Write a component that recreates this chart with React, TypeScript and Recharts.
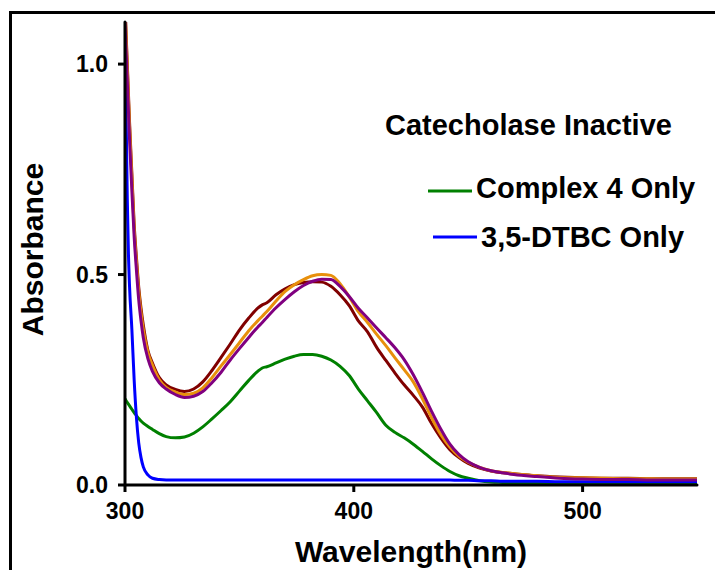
import React from 'react';
import { LineChart, Line, XAxis, YAxis, Legend, Label } from 'recharts';

// Wavelength grid (nm) shared by every trace
const wavelengths = [
  300, 300.5, 301, 301.5, 302, 303, 304, 305, 306, 307, 308, 310, 312, 315, 318,
  322, 326, 330, 334, 338, 342, 346, 350, 354, 358, 360, 362, 366, 370, 374, 378,
  382, 386, 390, 394, 398, 402, 406, 410, 414, 418, 422, 426, 430, 434, 438, 442,
  446, 450, 455, 460, 465, 470, 480, 490, 500, 510, 520, 530, 540, 550,
];

// Reaction mixture scans (absorbance)
const scanDarkRed = [
  1.15, 1.07, 1.0, 0.93, 0.86, 0.74, 0.62, 0.54, 0.47, 0.42, 0.38, 0.32, 0.29, 0.255, 0.238,
  0.227, 0.222, 0.228, 0.245, 0.272, 0.303, 0.335, 0.368, 0.396, 0.42, 0.428, 0.433, 0.452, 0.466, 0.476, 0.481,
  0.483, 0.482, 0.472, 0.452, 0.426, 0.39, 0.364, 0.327, 0.296, 0.266, 0.238, 0.213, 0.185, 0.146, 0.112, 0.084,
  0.065, 0.051, 0.04, 0.033, 0.029, 0.027, 0.022, 0.019, 0.017, 0.016, 0.016, 0.015, 0.015, 0.015,
];
const scanOrange = [
  1.13, 1.06, 0.99, 0.92, 0.85, 0.73, 0.61, 0.53, 0.46, 0.41, 0.37, 0.315, 0.285, 0.25, 0.232,
  0.221, 0.215, 0.218, 0.231, 0.255, 0.283, 0.31, 0.338, 0.366, 0.39, 0.401, 0.412, 0.437, 0.46, 0.476, 0.488,
  0.497, 0.5, 0.498, 0.478, 0.447, 0.412, 0.386, 0.358, 0.331, 0.302, 0.274, 0.245, 0.205, 0.16, 0.12, 0.09,
  0.068, 0.054, 0.042, 0.034, 0.03, 0.027, 0.022, 0.018, 0.017, 0.016, 0.015, 0.015, 0.014, 0.014,
];
const scanPurple = [
  1.1, 1.03, 0.96, 0.89, 0.82, 0.7, 0.59, 0.51, 0.44, 0.39, 0.35, 0.3, 0.27, 0.243, 0.228,
  0.215, 0.208, 0.211, 0.222, 0.243, 0.268, 0.297, 0.324, 0.35, 0.375, 0.386, 0.398, 0.421, 0.441, 0.459, 0.474,
  0.484, 0.489, 0.488, 0.472, 0.448, 0.42, 0.397, 0.373, 0.35, 0.326, 0.298, 0.262, 0.22, 0.175, 0.133, 0.097,
  0.072, 0.055, 0.042, 0.034, 0.029, 0.025, 0.02, 0.016, 0.014, 0.013, 0.013, 0.012, 0.012, 0.012,
];
// Controls
const complex4Only = [
  0.205, 0.2, 0.196, 0.192, 0.188, 0.18, 0.172, 0.165, 0.158, 0.152, 0.147, 0.139, 0.132, 0.122, 0.115,
  0.112, 0.114, 0.123, 0.138, 0.157, 0.177, 0.198, 0.223, 0.248, 0.27, 0.278, 0.281, 0.29, 0.299, 0.306, 0.31,
  0.31, 0.306, 0.297, 0.282, 0.26, 0.228, 0.2, 0.172, 0.142, 0.125, 0.112, 0.097, 0.08, 0.062, 0.046, 0.032,
  0.022, 0.016, 0.01, 0.007, 0.006, 0.005, 0.005, 0.004, 0.004, 0.004, 0.004, 0.004, 0.004, 0.004,
];
const dtbcOnly = [
  1.15, 0.87, 0.68, 0.55, 0.47, 0.37, 0.25, 0.16, 0.1, 0.065, 0.043, 0.024, 0.016, 0.013, 0.012,
  0.012, 0.012, 0.012, 0.012, 0.012, 0.012, 0.012, 0.012, 0.012, 0.012, 0.012, 0.012, 0.012, 0.012, 0.012, 0.012,
  0.012, 0.012, 0.012, 0.012, 0.012, 0.012, 0.012, 0.012, 0.012, 0.012, 0.012, 0.012, 0.012, 0.012, 0.012, 0.012,
  0.011, 0.011, 0.01, 0.01, 0.009, 0.009, 0.009, 0.008, 0.008, 0.008, 0.008, 0.008, 0.008, 0.008,
];

const xTicks = [300, 400, 500];
const yTicks = [0, 0.5, 1.0];
const legendTitle = 'Catecholase Inactive';
const legendNames = ['Complex 4 Only', '3,5-DTBC Only'];

const rows = wavelengths.map((wl, i) => ({
  wl,
  darkRed: scanDarkRed[i],
  orange: scanOrange[i],
  purple: scanPurple[i],
  complex: complex4Only[i],
  dtbc: dtbcOnly[i],
}));

const FONT = '"Liberation Sans", Arial, sans-serif';

const renderLegend = (props: any) => {
  const all = (props && props.payload ? props.payload : []) as any[];
  const items = legendNames
    .map((name) => all.find((it) => it.value === name))
    .filter(Boolean) as any[];
  const rowsY = [191, 237];
  const lineX = [[428, 472], [433, 477]];
  return (
    <svg width={715} height={570} style={{ position: 'absolute', left: 0, top: 0 }}>
      <text x={385} y={135} fontFamily={FONT} fontWeight="bold" fontSize={29} fill="#000">
        {legendTitle}
      </text>
      {items.map((it, i) => (
        <g key={String(it.value)}>
          <line x1={lineX[i][0]} x2={lineX[i][1]} y1={rowsY[i]} y2={rowsY[i]} stroke={it.color} strokeWidth={3} />
          <text x={lineX[i][1] + 4} y={rowsY[i] + 7 + i * 3} fontFamily={FONT} fontWeight="bold" fontSize={29} fill="#000">
            {it.value}
          </text>
        </g>
      ))}
    </svg>
  );
};

const axisStyle = { stroke: '#000', strokeWidth: 3, strokeLinecap: 'round' as const };
const tickText = { fill: '#000', fontFamily: FONT, fontWeight: 'bold', fontSize: 23 };

const YTitle = (p: any) => {
  const vb = (p && p.viewBox) || { y: 22, height: 463 };
  const cy = vb.y + vb.height / 2 - 4;
  return (
    <text
      x={32}
      y={cy}
      transform={`rotate(-90 32 ${cy})`}
      textAnchor="middle"
      dominantBaseline="central"
      fontFamily={FONT}
      fontWeight="bold"
      fontSize={30}
      fill="#000"
    >
      Absorbance
    </text>
  );
};

export default function App() {
  return (
    <div style={{ position: 'absolute', left: 0, top: 0, width: 715, height: 570, background: '#fff', overflow: 'hidden' }}>
      <div
        style={{
          position: 'absolute', left: 9, top: 11, width: 720, height: 580,
          borderLeft: '3px solid #000', borderTop: '3px solid #000',
        }}
      />
      <div style={{ position: 'absolute', left: 0, top: 0 }}>
        <LineChart width={715} height={570} data={rows} margin={{ top: 22, right: 18, bottom: 0, left: 0 }}>
          <XAxis
            dataKey="wl"
            type="number"
            domain={[300, 550]}
            ticks={xTicks}
            allowDataOverflow
            height={85}
            tickSize={7}
            tickMargin={11}
            axisLine={axisStyle}
            tickLine={{ stroke: '#000', strokeWidth: 3 }}
            tick={tickText}
          >
            <Label
              value="Wavelength(nm)"
              position="insideBottom"
              offset={8}
              style={{ fill: '#000', fontFamily: FONT, fontWeight: 'bold', fontSize: 30 }}
            />
          </XAxis>
          <YAxis
            type="number"
            domain={[0, 1.1]}
            ticks={yTicks}
            allowDataOverflow
            width={125}
            tickSize={7}
            tickMargin={10}
            tickFormatter={(v: number) => v.toFixed(1)}
            axisLine={axisStyle}
            tickLine={{ stroke: '#000', strokeWidth: 3 }}
            tick={tickText}
          >
            <Label content={YTitle} />
          </YAxis>
          <Legend
            layout="horizontal"
            verticalAlign="middle"
            align="center"
            content={renderLegend}
            wrapperStyle={{ position: 'absolute', left: 0, top: 0, width: 715, height: 570, pointerEvents: 'none' }}
          />
          <Line type="monotone" dataKey="complex" name="Complex 4 Only" stroke="#008000" strokeWidth={3} dot={false} isAnimationActive={false} />
          <Line type="monotone" dataKey="dtbc" name="3,5-DTBC Only" stroke="#0000FF" strokeWidth={3} dot={false} isAnimationActive={false} />
          <Line type="monotone" dataKey="darkRed" legendType="none" stroke="#800000" strokeWidth={3} dot={false} isAnimationActive={false} />
          <Line type="monotone" dataKey="orange" legendType="none" stroke="#E8900C" strokeWidth={3} dot={false} isAnimationActive={false} />
          <Line type="monotone" dataKey="purple" legendType="none" stroke="#800080" strokeWidth={3} dot={false} isAnimationActive={false} />
        </LineChart>
      </div>
    </div>
  );
}
